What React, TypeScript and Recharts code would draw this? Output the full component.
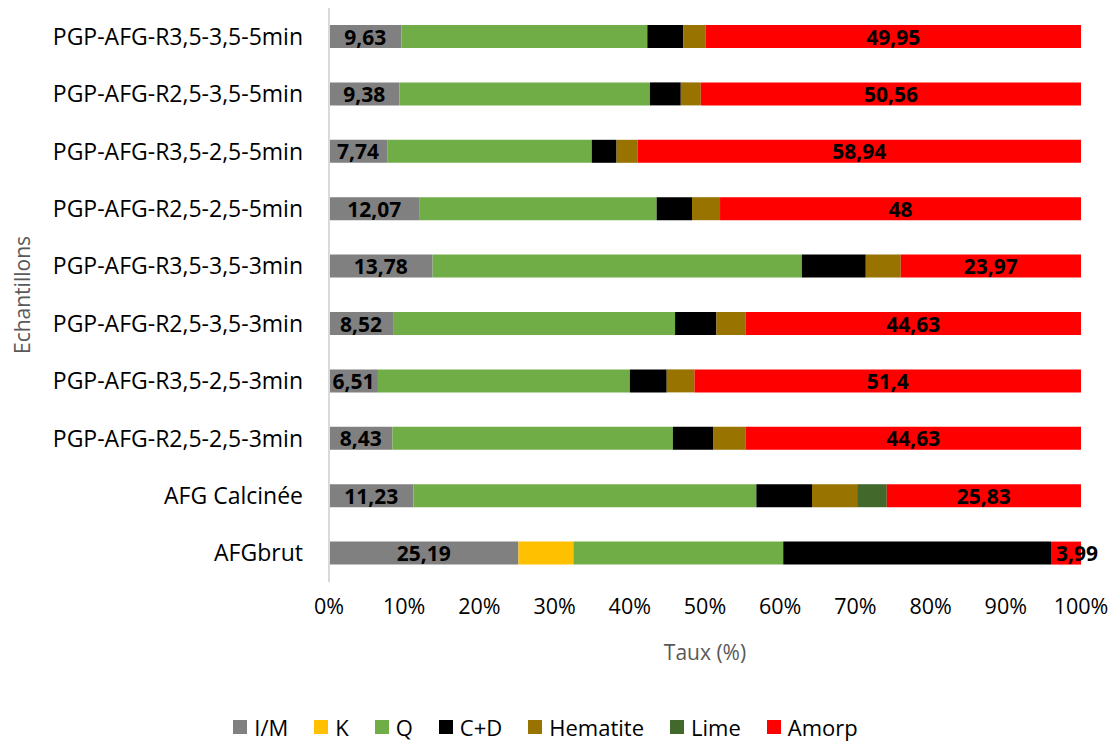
import { BarChart, Bar, XAxis, YAxis, Legend, LabelList, Label } from "recharts";

const samples = [
  "PGP-AFG-R3,5-3,5-5min",
  "PGP-AFG-R2,5-3,5-5min",
  "PGP-AFG-R3,5-2,5-5min",
  "PGP-AFG-R2,5-2,5-5min",
  "PGP-AFG-R3,5-3,5-3min",
  "PGP-AFG-R2,5-3,5-3min",
  "PGP-AFG-R3,5-2,5-3min",
  "PGP-AFG-R2,5-2,5-3min",
  "AFG Calcinée",
  "AFGbrut",
];

const im = [9.63, 9.38, 7.74, 12.07, 13.78, 8.52, 6.51, 8.43, 11.23, 25.19];
const kaol = [0, 0, 0, 0, 0, 0, 0, 0, 0, 7.3];
const quartz = [32.7, 33.3, 27.2, 31.5, 49.1, 37.5, 33.5, 37.3, 45.6, 27.9];
const cd = [4.8, 4.1, 3.3, 4.7, 8.5, 5.5, 4.9, 5.4, 7.4, 35.6];
const hematite = [2.92, 2.66, 2.82, 3.73, 4.65, 3.85, 3.69, 4.24, 6.0, 0];
const lime = [0, 0, 0, 0, 0, 0, 0, 0, 3.94, 0];
const amorp = [49.95, 50.56, 58.94, 48, 23.97, 44.63, 51.4, 44.63, 25.83, 3.99];

const xTicks = [0, 0.1, 0.2, 0.3, 0.4, 0.5, 0.6, 0.7, 0.8, 0.9, 1];

const series = [
  { key: "im", name: "I/M", color: "#808080" },
  { key: "k", name: "K", color: "#FFC000" },
  { key: "q", name: "Q", color: "#70AD47" },
  { key: "cd", name: "C+D", color: "#000000" },
  { key: "hem", name: "Hematite", color: "#997300" },
  { key: "lime", name: "Lime", color: "#43682B" },
  { key: "amorp", name: "Amorp", color: "#FF0000" },
];

const data = samples.map((name, i) => ({
  name,
  im: im[i],
  k: kaol[i],
  q: quartz[i],
  cd: cd[i],
  hem: hematite[i],
  lime: lime[i],
  amorp: amorp[i],
}));

const FONT = "'Open Sans', sans-serif";
const fmt = (v: any) => String(v).replace(".", ",");

// value label centred in the segment, pushed to the right when the segment is too narrow
function SegLabel(props: any) {
  const { x, y, width, height, value } = props;
  if (value == null) return null;
  const narrow = width < 45;
  return (
    <text
      x={narrow ? x + 5 : x + width / 2}
      y={y + height / 2}
      textAnchor={narrow ? "start" : "middle"}
      dominantBaseline="central"
      fill="#000"
      fontSize={21}
      fontWeight="bold"
    >
      {fmt(value)}
    </text>
  );
}

function LegendRow() {
  return (
    <div style={{ display: "flex", justifyContent: "center", gap: 26, fontFamily: FONT, fontSize: 22, color: "#000", lineHeight: "30px" }}>
      {series.map((s) => (
        <div key={s.key} style={{ display: "flex", alignItems: "center" }}>
          <span style={{ width: 14, height: 14, background: s.color, display: "inline-block", marginRight: 7 }} />
          <span>{s.name}</span>
        </div>
      ))}
    </div>
  );
}

export default function App() {
  return (
    <div style={{ width: 1117, height: 742, background: "#fff" }}>
      <style>{"body{margin:0}"}</style>
      <BarChart
        width={1117}
        height={742}
        data={data}
        layout="vertical"
        stackOffset="expand"
        barSize={23}
        margin={{ top: 8, right: 36, left: 10, bottom: 0 }}
        style={{ fontFamily: FONT }}
      >
        <XAxis
          type="number"
          domain={[0, 1]}
          ticks={xTicks}
          tickFormatter={(v) => `${Math.round(v * 100)}%`}
          axisLine={false}
          tickLine={false}
          tick={{ fill: "#000", fontSize: 21.5 }}
          tickMargin={11}
          height={130}
        >
          <Label value="Taux (%)" position="insideTop" offset={63} fill="#595959" fontSize={21} />
        </XAxis>
        <YAxis
          type="category"
          dataKey="name"
          width={319}
          axisLine={{ stroke: "#d9d9d9", strokeWidth: 2 }}
          tickLine={false}
          tickSize={6}
          tickMargin={20}
          tick={{ fill: "#000", fontSize: 23 }}
          interval={0}
        >
          <Label
            content={({ viewBox }: any) => {
              const cy = viewBox.y + viewBox.height / 2;
              return (
                <text
                  x={22}
                  y={cy}
                  transform={`rotate(-90 22 ${cy})`}
                  textAnchor="middle"
                  dominantBaseline="central"
                  fill="#595959"
                  fontSize={21}
                >
                  Echantillons
                </text>
              );
            }}
          />
        </YAxis>
        <Legend verticalAlign="bottom" content={() => <LegendRow />} wrapperStyle={{ height: 30 }} />
        {series.map((s) => (
          <Bar key={s.key} dataKey={s.key} name={s.name} stackId="a" fill={s.color} isAnimationActive={false}>
            {(s.key === "im" || s.key === "amorp") && (
              <LabelList dataKey={s.key} content={SegLabel} />
            )}
          </Bar>
        ))}
      </BarChart>
    </div>
  );
}
